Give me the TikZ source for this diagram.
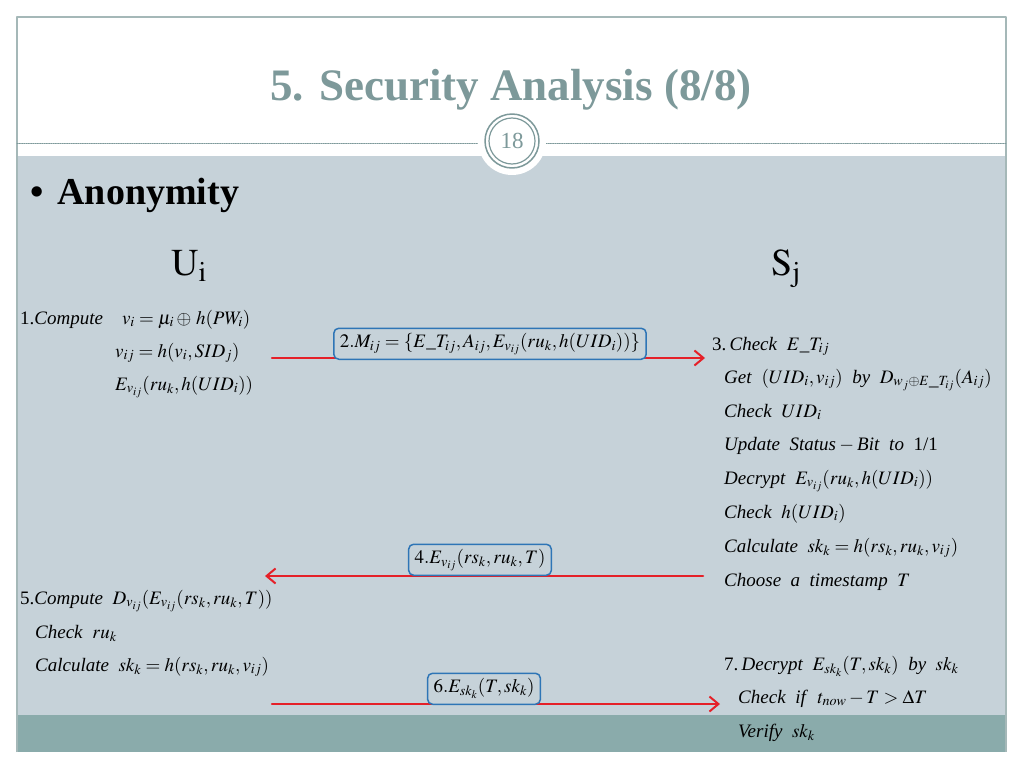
\documentclass[tikz,border=0pt]{standalone}
\usepackage{mathptmx}
\usepackage{fontspec}
\setmainfont{Liberation Serif}
\usetikzlibrary{arrows.meta}
\definecolor{slidebg}{RGB}{198,210,217}
\definecolor{bandteal}{RGB}{138,171,171}
\definecolor{titlegray}{RGB}{125,153,154}
\definecolor{framegray}{RGB}{165,184,184}
\definecolor{msgred}{RGB}{229,32,40}
\definecolor{boxblue}{RGB}{46,117,182}
\tikzset{
	stepline/.style={anchor=base west, inner sep=0pt, font=\fontsize{19}{21}\selectfont},
	msgbox/.style={draw=boxblue, line width=1.5pt, rounded corners=5pt, fill=slidebg, anchor=south,
		inner xsep=6pt, inner ysep=6pt, text height=13pt, text depth=6pt, font=\fontsize{19}{21}\selectfont},
	msgarrow/.style={draw=msgred, line width=2.5pt, -{Straight Barb[length=9pt,width=15pt,line width=2pt]}}
}
\begin{document}
\begin{tikzpicture}[x=1pt, y=-1pt, line join=round, line cap=round]
	\useasboundingbox (0,0) rectangle (1024,768);
	\fill[white] (0,0) rectangle (1024,768);
	% slide
	\fill[slidebg] (17,156) rectangle (1006,715);
	\fill[bandteal] (17,715) rectangle (1006,752);
	\draw[framegray, line width=1.5pt, line cap=butt] (17,752) -- (17,17) -- (1006,17) -- (1006,752);
	\draw[titlegray, densely dotted, line width=0.8pt] (17,143) -- (1006,143);
	\fill[white] (512,141) circle (34);
	\draw[titlegray, line width=1.5pt] (512,141) circle (27);
	\draw[titlegray, line width=1.2pt] (512,141) circle (23);
	\node[titlegray, font=\fontsize{23}{26}\selectfont] (N) at (512,141) {18};
	\node[titlegray, anchor=base, font=\fontsize{45}{50}\bfseries] (T) at (511,100) {5. Security Analysis (8/8)};
	\node[anchor=base west, inner sep=0pt, font=\fontsize{38}{40}\bfseries] (A) at (30,204) {\textbullet\hspace{14pt}Anonymity};
	\node[anchor=base west, inner sep=0pt, font=\fontsize{38}{40}\selectfont] (U) at (171,275) {$\mathrm{U_i}$};
	\node[anchor=base west, inner sep=0pt, font=\fontsize{38}{40}\selectfont] (S) at (771,275) {$\mathrm{S_j}$};
	% U_i
	\node[stepline] (l1) at (20,324) {1.\textit{Compute}\quad $v_i=\mu_i\oplus\, h(PW_i)$};
	\node[stepline] (l2) at (115,357) {$v_{ij}=h(v_i,SID_j)$};
	\node[stepline] (l3) at (115,390) {$E_{v_{ij}}(ru_k,h(UID_i))$};
	\node[stepline] (l5) at (20,604) {5.\textit{Compute}\ \ $D_{v_{ij}}(E_{v_{ij}}(rs_k,ru_k,T))$};
	\node[stepline] (l6) at (35,638) {\textit{Check}\ \ $ru_k$};
	\node[stepline] (l7) at (35,671) {\textit{Calculate}\ \ $sk_k=h(rs_k,ru_k,v_{ij})$};
	% S_j
	\node[stepline] (r1) at (712,350) {3.\,\textit{Check}\ \ $E\_T_{ij}$};
	\node[stepline] (r2) at (724,383) {\textit{Get}\ \ $(UID_i,v_{ij})$\ \ \textit{by}\ \ $D_{w_j\oplus E\_T_{ij}}(A_{ij})$};
	\node[stepline] (r3) at (724,417) {\textit{Check}\ \ $UID_i$};
	\node[stepline] (r4) at (724,450) {\textit{Update}\ \ \textit{Status}\,$-$\,\textit{Bit}\ \ \textit{to}\ \ 1/1};
	\node[stepline] (r5) at (724,484) {\textit{Decrypt}\ \ $E_{v_{ij}}(ru_k,h(UID_i))$};
	\node[stepline] (r6) at (724,518) {\textit{Check}\ \ $h(UID_i)$};
	\node[stepline] (r7) at (724,552) {\textit{Calculate}\ \ $sk_k=h(rs_k,ru_k,v_{ij})$};
	\node[stepline] (r8) at (724,586) {\textit{Choose}\ \ \textit{a}\ \ \textit{timestamp}\ \ $T$};
	\node[stepline] (r9) at (724,670) {7.\,\textit{Decrypt}\ \ $E_{sk_k}(T,sk_k)$\ \ \textit{by}\ \ $sk_k$};
	\node[stepline] (r10) at (738,703) {\textit{Check}\ \ \textit{if}\ \ $t_{now}-T>\Delta T$};
	\node[stepline] (r11) at (738,737) {\textit{Verify}\ \ $sk_k$};
	% messages
	\coordinate (a2s) at (272,358);
	\coordinate (a2e) at (705,358);
	\coordinate (a4s) at (703,576);
	\coordinate (a4e) at (265,576);
	\coordinate (a6s) at (272,704);
	\coordinate (a6e) at (720,704);
	\draw[msgarrow] (a2s) -- (a2e);
	\draw[msgarrow] (a4s) -- (a4e);
	\draw[msgarrow] (a6s) -- (a6e);
	\node[msgbox] (m2) at (490,360) {$2.M_{ij}=\{E\_T_{ij},A_{ij},E_{v_{ij}}(ru_k,h(UID_i))\}$};
	\node[msgbox] (m4) at (480,576) {$4.E_{v_{ij}}(rs_k,ru_k,T)$};
	\node[msgbox] (m6) at (484,705) {$6.E_{sk_k}(T,sk_k)$};
\end{tikzpicture}
\end{document}
